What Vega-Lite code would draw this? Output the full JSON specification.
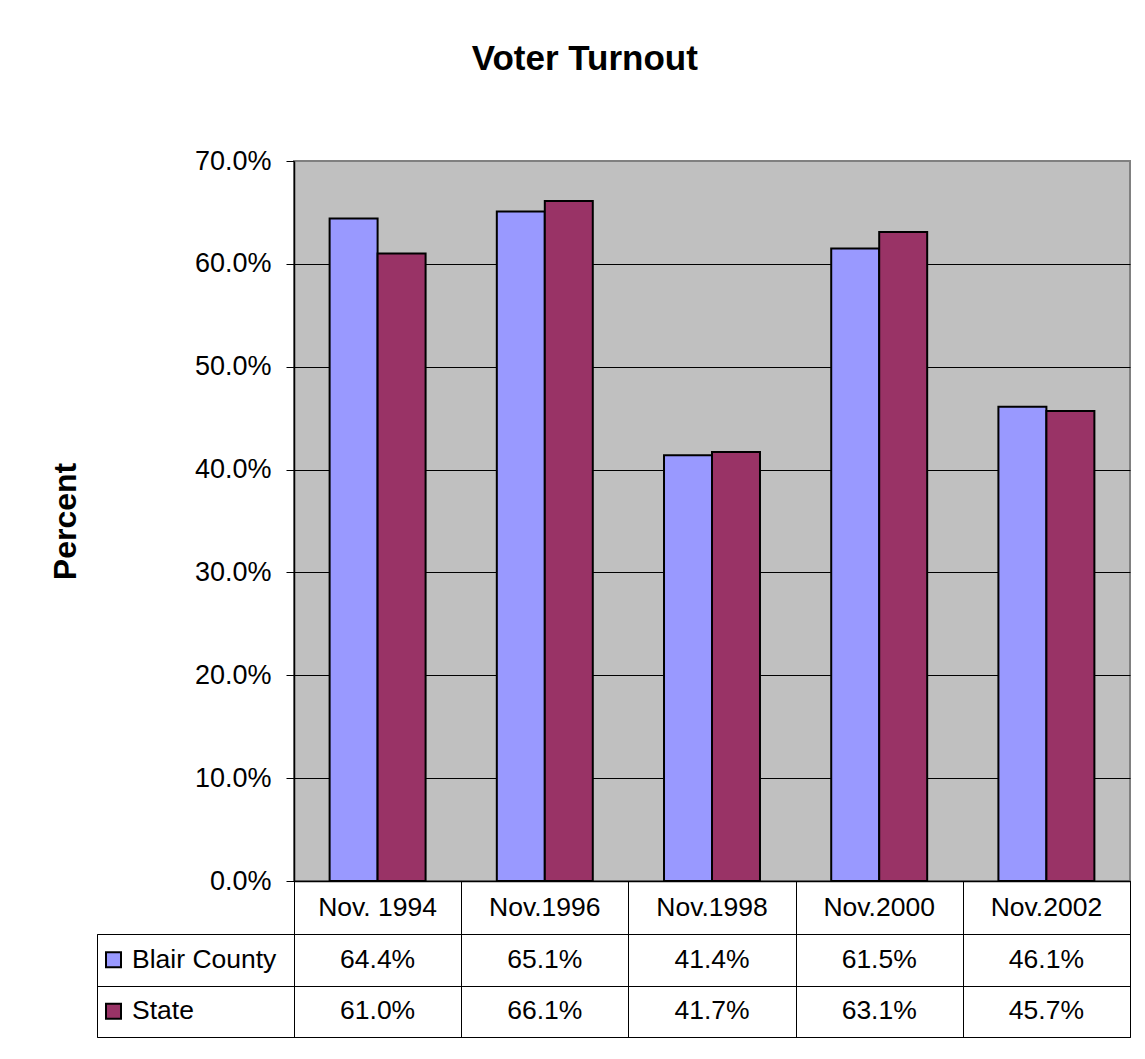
{
  "$schema": "https://vega.github.io/schema/vega-lite/v6.json",
  "background": "white",
  "padding": {"left": 48, "top": 42, "right": 5, "bottom": 5},
  "title": {"text": "Voter Turnout", "fontSize": 35, "fontWeight": "bold", "anchor": "middle", "offset": 69, "dx": -5, "color": "black", "font": "Liberation Sans"},
  "config": {"font": "Liberation Sans", "view": {"stroke": null}},
  "datasets": {
    "turnout": [
      {"year": "Nov. 1994", "series": "Blair County", "value": 0.644},
      {"year": "Nov. 1994", "series": "State", "value": 0.610},
      {"year": "Nov.1996", "series": "Blair County", "value": 0.651},
      {"year": "Nov.1996", "series": "State", "value": 0.661},
      {"year": "Nov.1998", "series": "Blair County", "value": 0.414},
      {"year": "Nov.1998", "series": "State", "value": 0.417},
      {"year": "Nov.2000", "series": "Blair County", "value": 0.615},
      {"year": "Nov.2000", "series": "State", "value": 0.631},
      {"year": "Nov.2002", "series": "Blair County", "value": 0.461},
      {"year": "Nov.2002", "series": "State", "value": 0.457}
    ]
  },
  "columns": 2,
  "spacing": 0,
  "bounds": "flush",
  "resolve": {"scale": {"x": "independent", "y": "independent"}},
  "concat": [
    {
      "width": 197, "height": 720,
      "data": {"values": []},
      "mark": {"type": "point", "opacity": 0},
      "encoding": {}
    },
    {
      "width": 836, "height": 720,
      "data": {"name": "turnout"},
      "view": {"fill": "#C0C0C0", "stroke": "#808080", "strokeWidth": 2},
      "mark": {"type": "bar", "stroke": "black", "strokeWidth": 2},
      "encoding": {
        "x": {"field": "year", "type": "nominal",
          "scale": {"domain": ["Nov. 1994", "Nov.1996", "Nov.1998", "Nov.2000", "Nov.2002"], "paddingInner": 0.426, "paddingOuter": 0.213},
          "axis": {"labels": false, "ticks": false, "domain": true, "domainColor": "black", "domainWidth": 1.5, "title": null, "grid": false}},
        "xOffset": {"field": "series", "type": "nominal", "scale": {"domain": ["Blair County", "State"], "paddingInner": 0, "paddingOuter": 0}},
        "y": {"field": "value", "type": "quantitative",
          "scale": {"domain": [0, 0.7], "nice": false},
          "axis": {"values": [0, 0.1, 0.2, 0.3, 0.4, 0.5, 0.6, 0.7], "format": ".1%", "title": "Percent", "titleFontSize": 32, "titleFontWeight": "bold", "titlePadding": 112, "titleColor": "black", "labelFontSize": 27, "labelColor": "black", "labelPadding": 15, "tickSize": 8, "tickColor": "black", "tickWidth": 1, "domainColor": "black", "domainWidth": 1.5, "grid": true, "gridColor": {"condition": {"test": "datum.value > 0.69", "value": "#808080"}, "value": "black"}, "gridWidth": 1, "gridOpacity": 1}},
        "color": {"field": "series", "type": "nominal", "scale": {"domain": ["Blair County", "State"], "range": ["#9999FF", "#993366"]}, "legend": null}
      }
    },
    {
      "width": 197, "height": 53,
      "data": {"values": []},
      "mark": {"type": "point", "opacity": 0},
      "encoding": {}
    },
    {
      "width": 836, "height": 53,
      "data": {"name": "turnout"},
      "transform": [{"filter": "datum.series === 'Blair County'"}],
      "view": {"stroke": "black", "strokeWidth": 1},
      "mark": {"type": "text", "fontSize": 26.5, "color": "black"},
      "encoding": {
        "x": {"field": "year", "type": "nominal",
          "scale": {"domain": ["Nov. 1994", "Nov.1996", "Nov.1998", "Nov.2000", "Nov.2002"], "paddingInner": 0, "paddingOuter": 0},
          "axis": {"tickBand": "extent", "grid": true, "gridColor": "black", "gridOpacity": 1, "gridWidth": 1, "labels": false, "ticks": false, "domain": false, "title": null}},
        "text": {"field": "year", "type": "nominal"}
      }
    },
    {
      "width": 197, "height": 103,
      "data": {"name": "turnout"},
      "transform": [{"filter": "datum.year === 'Nov. 1994'"}],
      "view": {"stroke": "black", "strokeWidth": 1},
      "encoding": {
        "y": {"field": "series", "type": "nominal",
          "scale": {"domain": ["Blair County", "State"], "paddingInner": 0, "paddingOuter": 0},
          "axis": null}
      },
      "layer": [
        {
          "mark": {"type": "point", "shape": "square", "filled": true, "size": 225, "stroke": "black", "strokeWidth": 2, "opacity": 1},
          "encoding": {
            "x": {"datum": "swatch", "type": "nominal", "scale": {"type": "point", "domain": ["swatch", "label"], "range": [16.5, 35], "padding": 0}, "axis": null},
            "color": {"field": "series", "type": "nominal", "scale": {"domain": ["Blair County", "State"], "range": ["#9999FF", "#993366"]}, "legend": null}
          }
        },
        {
          "mark": {"type": "text", "align": "left", "fontSize": 26.5, "color": "black"},
          "encoding": {
            "x": {"datum": "label", "type": "nominal", "axis": null},
            "text": {"field": "series", "type": "nominal"}
          }
        }
      ]
    },
    {
      "width": 836, "height": 103,
      "data": {"name": "turnout"},
      "view": {"stroke": "black", "strokeWidth": 1},
      "mark": {"type": "text", "fontSize": 26.5, "color": "black"},
      "encoding": {
        "x": {"field": "year", "type": "nominal",
          "scale": {"domain": ["Nov. 1994", "Nov.1996", "Nov.1998", "Nov.2000", "Nov.2002"], "paddingInner": 0, "paddingOuter": 0},
          "axis": {"tickBand": "extent", "grid": true, "gridColor": "black", "gridOpacity": 1, "gridWidth": 1, "labels": false, "ticks": false, "domain": false, "title": null}},
        "y": {"field": "series", "type": "nominal",
          "scale": {"domain": ["Blair County", "State"], "paddingInner": 0, "paddingOuter": 0},
          "axis": {"tickBand": "extent", "grid": true, "gridColor": "black", "gridOpacity": 1, "gridWidth": 1, "labels": false, "ticks": true, "tickSize": 197, "tickColor": "black", "tickWidth": 1, "domain": false, "title": null}},
        "text": {"field": "value", "type": "quantitative", "format": ".1%"}
      }
    }
  ]
}
